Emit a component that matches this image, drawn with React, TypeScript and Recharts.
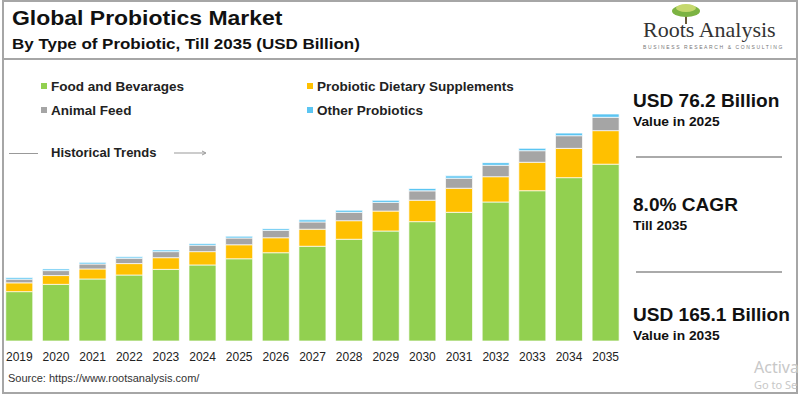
import { Bar, BarChart, XAxis, YAxis } from "recharts";

const years = ["2019", "2020", "2021", "2022", "2023", "2024", "2025", "2026", "2027", "2028", "2029", "2030", "2031", "2032", "2033", "2034", "2035"];
const foodAndBeverages = [35.9, 41.2, 45.1, 48.0, 52.1, 55.3, 59.8, 64.2, 68.9, 74.0, 80.0, 86.8, 93.6, 101.1, 109.3, 118.8, 128.6];
const dietarySupplements = [6.4, 6.4, 7.3, 8.3, 8.5, 9.7, 10.2, 10.9, 12.4, 13.5, 14.5, 15.6, 17.5, 18.4, 20.7, 21.3, 24.4];
const animalFeed = [2.7, 3.6, 3.6, 3.9, 4.4, 4.7, 4.9, 5.4, 5.3, 6.1, 6.3, 6.8, 7.3, 8.3, 8.4, 9.2, 9.7];
const otherProbiotics = [1.2, 1.2, 1.2, 1.0, 1.2, 1.2, 1.3, 1.2, 1.5, 1.5, 1.5, 1.7, 1.7, 1.9, 1.7, 1.9, 2.4];

const legendItems = [
  { label: "Food and Bevarages", color: "#92D050", x: 41, y: 86 },
  { label: "Probiotic Dietary Supplements", color: "#FFC000", x: 307, y: 86 },
  { label: "Animal Feed", color: "#A5A5A5", x: 41, y: 110 },
  { label: "Other Probiotics", color: "#5BC5F2", x: 307, y: 110 },
];

const data = years.map((year, i) => ({
  year,
  food: foodAndBeverages[i],
  supplements: dietarySupplements[i],
  feed: animalFeed[i],
  other: otherProbiotics[i],
}));

const font = "'Liberation Sans', Arial, sans-serif";

function Logo() {
  return (
    <div style={{ position: "absolute", left: 640, top: 2, width: 150, height: 54 }}>
      <svg width={150} height={24} style={{ position: "absolute", left: 0, top: 0 }}>
        <line x1={46} y1={12} x2={46} y2={22} stroke="#6b5a3a" strokeWidth={2} />
        <ellipse cx={46} cy={9} rx={14} ry={6} fill="#7cb342" />
        <ellipse cx={46} cy={6} rx={10} ry={4} fill="#c5d86d" />
      </svg>
      <div style={{ position: "absolute", left: 3, top: 17, fontFamily: "'Liberation Serif', 'Times New Roman', serif", fontSize: 22, color: "#333", whiteSpace: "nowrap", lineHeight: "22px" }}>
        Roots Analysis
      </div>
      <div style={{ position: "absolute", left: 3, top: 42, fontFamily: font, fontSize: 5, letterSpacing: 1.6, color: "#777", whiteSpace: "nowrap" }}>
        BUSINESS RESEARCH &amp; CONSULTING
      </div>
    </div>
  );
}

function Stat({ top, big, small }: { top: number; big: string; small: string }) {
  return (
    <div style={{ position: "absolute", left: 633, top, fontFamily: font, fontWeight: 700, color: "#111", whiteSpace: "nowrap", transform: "scaleX(1.06)", transformOrigin: "left top" }}>
      <div style={{ fontSize: 18, lineHeight: "20px" }}>{big}</div>
      <div style={{ fontSize: 13, lineHeight: "22px" }}>{small}</div>
    </div>
  );
}

export default function App() {
  return (
    <div style={{ position: "absolute", left: 0, top: 0, width: 800, height: 395, background: "#fff", overflow: "hidden", fontFamily: font }}>
      {/* frame */}
      <div style={{ position: "absolute", left: 2, top: 0, width: 792, height: 390, border: "2px solid #a6a6a6" }} />
      <div style={{ position: "absolute", left: 2, top: 58, width: 796, height: 2, background: "#a6a6a6" }} />

      <div style={{ position: "absolute", left: 12, top: 6, fontSize: 20.5, fontWeight: 700, color: "#111", whiteSpace: "nowrap", transform: "scaleX(1.12)", transformOrigin: "left top" }}>
        Global Probiotics Market
      </div>
      <div style={{ position: "absolute", left: 12, top: 35, fontSize: 15, fontWeight: 700, color: "#111", whiteSpace: "nowrap", transform: "scaleX(1.13)", transformOrigin: "left top" }}>
        By Type of Probiotic, Till 2035 (USD Billion)
      </div>
      <Logo />

      {legendItems.map((it) => (
        <div key={it.label} style={{ position: "absolute", left: it.x, top: it.y - 9, height: 18, display: "flex", alignItems: "center", whiteSpace: "nowrap" }}>
          <span style={{ display: "inline-block", width: 6, height: 6, background: it.color, marginRight: 4 }} />
          <span style={{ fontSize: 13, fontWeight: 700, color: "#222", display: "inline-block", transform: "scaleX(1.04)", transformOrigin: "left center" }}>{it.label}</span>
        </div>
      ))}

      <div style={{ position: "absolute", left: 9, top: 153, width: 29, height: 1, background: "#999" }} />
      <div style={{ position: "absolute", left: 51, top: 144, fontSize: 13, fontWeight: 700, color: "#222", whiteSpace: "nowrap", lineHeight: "18px" }}>
        Historical Trends
      </div>
      <svg width={40} height={10} style={{ position: "absolute", left: 172, top: 148 }}>
        <line x1={2} y1={5} x2={33} y2={5} stroke="#999" strokeWidth={1} />
        <path d="M30 3 L34 5 L30 7" fill="none" stroke="#999" strokeWidth={1} />
      </svg>

      <div style={{ position: "absolute", left: 0, top: 0 }}>
        <BarChart width={630} height={395} data={data} margin={{ top: 93.5, right: 6, left: 1, bottom: 24 }} barCategoryGap="13%">
          <XAxis dataKey="year" axisLine={false} tickLine={false} tickMargin={5} height={30} interval={0} tick={{ fontSize: 12, fill: "#222", fontFamily: font }} />
          <YAxis hide domain={[0, 180]} allowDataOverflow />
          <Bar dataKey="food" stackId="a" fill="#92D050" stroke="#fff" strokeWidth={0.7} isAnimationActive={false} />
          <Bar dataKey="supplements" stackId="a" fill="#FFC000" stroke="#fff" strokeWidth={0.7} isAnimationActive={false} />
          <Bar dataKey="feed" stackId="a" fill="#A5A5A5" stroke="#fff" strokeWidth={0.7} isAnimationActive={false} />
          <Bar dataKey="other" stackId="a" fill="#5BC5F2" stroke="#fff" strokeWidth={0.7} isAnimationActive={false} />
        </BarChart>
      </div>

      <div style={{ position: "absolute", left: 8, top: 372, fontSize: 11, color: "#333", whiteSpace: "nowrap" }}>
        Source: https://www.rootsanalysis.com/
      </div>

      <Stat top={91} big="USD 76.2 Billion" small="Value in 2025" />
      <div style={{ position: "absolute", left: 636, top: 156, width: 146, height: 2, background: "#aaa" }} />
      <Stat top={195} big="8.0% CAGR" small="Till 2035" />
      <div style={{ position: "absolute", left: 636, top: 271, width: 146, height: 2, background: "#aaa" }} />
      <Stat top={305} big="USD 165.1 Billion" small="Value in 2035" />

      <div style={{ position: "absolute", left: 754, top: 356, fontFamily: "'Noto Sans', sans-serif", fontSize: 16, color: "#c8c8c8", whiteSpace: "nowrap" }}>
        Activa
      </div>
      <div style={{ position: "absolute", left: 754, top: 377, fontFamily: "'Noto Sans', sans-serif", fontSize: 11, color: "#c8c8c8", whiteSpace: "nowrap" }}>
        Go to Se
      </div>
    </div>
  );
}
